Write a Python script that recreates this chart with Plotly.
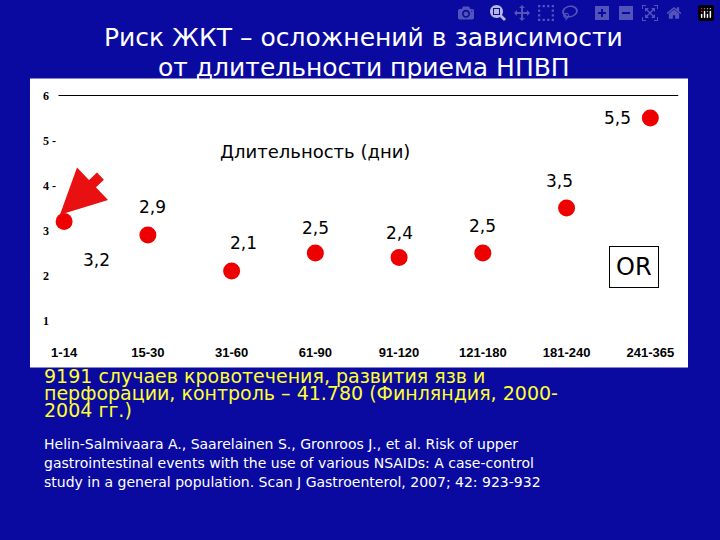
import plotly.graph_objects as go

categories = ["1-14", "15-30", "31-60", "61-90", "91-120", "121-180", "181-240", "241-365"]
odds_ratio = [3.2, 2.9, 2.1, 2.5, 2.4, 2.5, 3.5, 5.5]
value_labels = ["3,2", "2,9", "2,1", "2,5", "2,4", "2,5", "3,5", "5,5"]
y_ticks = [1, 2, 3, 4, 5, 6]
y_tick_text = ["1", "2", "3", "4 -", "5 -", "6"]
title_lines = ["Риск ЖКТ – осложнений в зависимости", "от длительности приема НПВП"]
note_lines = ["9191 случаев кровотечения, развития язв и",
              "перфорации, контроль – 41.780 (Финляндия, 2000-",
              "2004 гг.)"]
ref_lines = ["Helin-Salmivaara A., Saarelainen S., Gronroos J., et al. Risk of upper",
             "gastrointestinal events with the use of various NSAIDs: A case-control",
             "study in a general population. Scan J Gastroenterol, 2007; 42: 923-932"]

BG = "#0A0AA0"
xs = list(range(len(categories)))
TOP, H = 343.5, 262.0
def py(p):
    return (TOP - p) / H

fig = go.Figure()
fig.add_trace(go.Scatter(x=xs, y=odds_ratio, mode="markers",
                         marker=dict(color="#EE0000", size=17, line=dict(width=0)),
                         hoverinfo="skip"))

offs = [(32, -38), (5, 28), (12, 28), (0, 25), (0, 25), (0, 27), (-7, 27), (-33, 0)]
ann = []
for i, (lab, (dx, dy)) in enumerate(zip(value_labels, offs)):
    ann.append(dict(x=xs[i], y=odds_ratio[i], xref="x", yref="y", text=lab, showarrow=False,
                    xshift=dx, yshift=dy, font=dict(family="DejaVu Sans", size=17, color="black")))
for t, lab in zip(y_ticks, y_tick_text):
    ann.append(dict(x=-0.0, y=t, xref="paper", yref="y", text="<b>" + lab + "</b>", showarrow=False,
                    xanchor="left", xshift=2, font=dict(family="Liberation Serif", size=12, color="black")))
for k, line in enumerate(title_lines):
    ann.append(dict(x=0.5, y=py(20 + 30 * k), xref="paper", yref="paper", showarrow=False,
                    text=line, font=dict(family="DejaVu Sans", size=25, color="white")))
for k, line in enumerate(note_lines):
    ann.append(dict(x=0.005, y=py(390 + 17 * k), xref="paper", yref="paper", xanchor="left",
                    showarrow=False, text=line,
                    font=dict(family="DejaVu Sans", size=19, color="#FFFF30")))
for k, line in enumerate(ref_lines):
    ann.append(dict(x=0.005, y=py(455 + 19 * k), xref="paper", yref="paper", xanchor="left",
                    showarrow=False, text=line,
                    font=dict(family="DejaVu Sans", size=14, color="white")))
ann += [
    dict(x=3.0, y=4.75, xref="x", yref="y", text="Длительность (дни)", showarrow=False,
         xanchor="center", font=dict(family="DejaVu Sans", size=18, color="black")),
    dict(x=6.8, y=2.2, xref="x", yref="y", text="OR", showarrow=False, bgcolor="white",
         bordercolor="black", borderwidth=1, borderpad=6,
         font=dict(family="DejaVu Sans", size=24, color="black")),
    dict(x=-0.05, y=3.35, xref="x", yref="y", ax=42, ay=-40, text="", showarrow=True,
         arrowhead=2, arrowsize=0.9, arrowwidth=10, arrowcolor="#E81010"),
]

fig.update_layout(
    width=720, height=540, paper_bgcolor=BG, plot_bgcolor="white",
    margin=dict(l=39, r=32, t=82, b=197), showlegend=False,
    annotations=ann,
    shapes=[
        dict(type="rect", xref="paper", yref="paper", x0=-0.0139, x1=1.0, y0=-0.0935, y1=1.0134,
             fillcolor="white", line=dict(width=0), layer="below"),
        dict(type="line", xref="paper", yref="y", x0=0.03, x1=0.985, y0=6, y1=6,
             line=dict(color="black", width=1)),
    ],
    xaxis=dict(range=[-0.3, 7.45], tickvals=xs, ticktext=["<b>" + c + "</b>" for c in categories],
               showgrid=False, zeroline=False, showline=False, ticks="",
               tickfont=dict(family="Liberation Sans", size=13, color="black")),
    yaxis=dict(range=[0.5, 6.3], showgrid=False, zeroline=False, showline=False, showticklabels=False),
)
fig.write_html("out.html", post_script="document.body.style.margin='0';document.body.style.background='%s';" % BG)
